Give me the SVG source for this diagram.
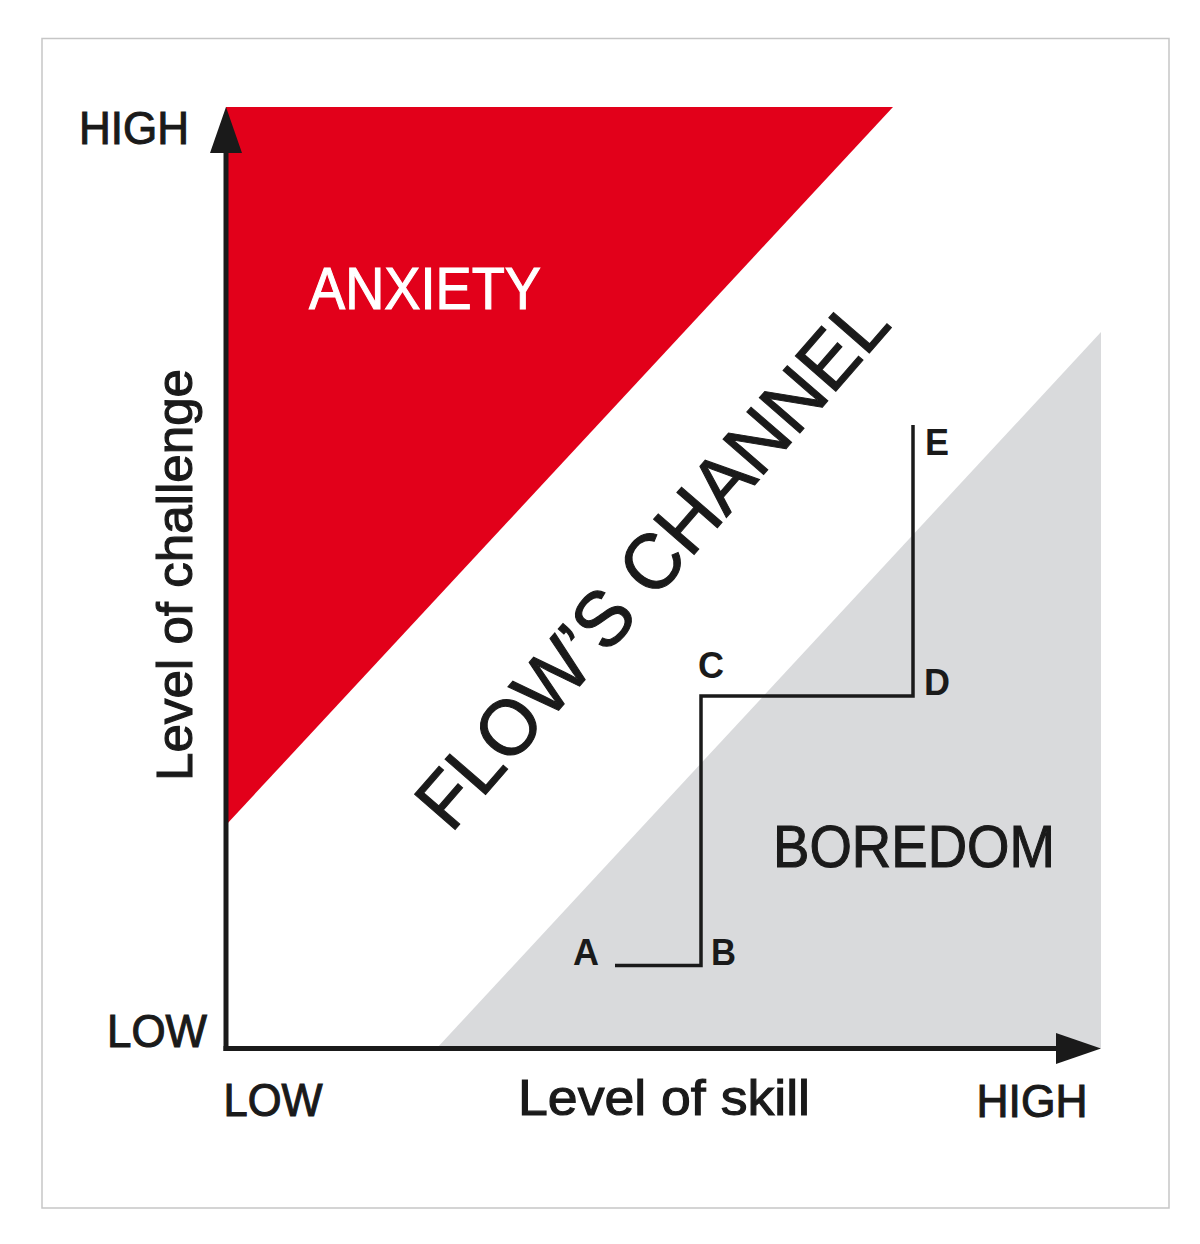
<svg xmlns="http://www.w3.org/2000/svg" width="1200" height="1244" viewBox="0 0 1200 1244">
  <style>
    .lbl { font-family: "Liberation Sans", Arial, sans-serif; fill: #1a1a1a; stroke: #1a1a1a; stroke-width: 1.1; }
    .white { fill: #ffffff; stroke: #ffffff; }
    .big { font-size: 46px; }
    .axisname { font-size: 50px; }
    .region { font-size: 60px; }
    .pt { font-family: "Liberation Sans", Arial, sans-serif; font-weight: bold; font-size: 36px; fill: #1a1a1a; }
    .axis { stroke: #1a1a1a; stroke-width: 5; fill: none; }
    .step { stroke: #1a1a1a; stroke-width: 3.5; fill: none; stroke-linejoin: miter; stroke-linecap: butt; }
  </style>
  <rect x="0" y="0" width="1200" height="1244" fill="#ffffff"/>
  <rect x="42" y="38.5" width="1127" height="1169.5" fill="#ffffff" stroke="#c6c6c6" stroke-width="1.5"/>

  <g id="anxiety-region">
    <polygon points="226,107 893,107 226,825" fill="#e2001a"/>
    <text class="lbl region white" x="309" y="309" textLength="232" lengthAdjust="spacingAndGlyphs">ANXIETY</text>
  </g>

  <g id="boredom-region">
    <polygon points="437,1048 1101,332 1101,1048" fill="#d9dadc"/>
    <text class="lbl region" x="773" y="867" textLength="282" lengthAdjust="spacingAndGlyphs">BOREDOM</text>
  </g>

  <g id="flow-channel">
    <text class="lbl" style="font-size:78px" text-anchor="middle" transform="translate(672,580) rotate(-49)" textLength="674" lengthAdjust="spacingAndGlyphs">FLOW’S CHANNEL</text>
  </g>

  <g id="axes">
    <line class="axis" x1="226" y1="1051" x2="226" y2="150"/>
    <polygon points="226,107 210,153 242,153" fill="#1a1a1a"/>
    <line class="axis" x1="223.5" y1="1048.5" x2="1060" y2="1048.5"/>
    <polygon points="1101,1048.5 1056,1033 1056,1064" fill="#1a1a1a"/>
  </g>

  <g id="axis-labels">
    <text class="lbl big" x="79" y="143.5" textLength="110" lengthAdjust="spacingAndGlyphs">HIGH</text>
    <text class="lbl big" x="107" y="1046.5" textLength="100" lengthAdjust="spacingAndGlyphs">LOW</text>
    <text class="lbl big" x="223.5" y="1116" textLength="99" lengthAdjust="spacingAndGlyphs">LOW</text>
    <text class="lbl big" x="976.5" y="1117" textLength="111" lengthAdjust="spacingAndGlyphs">HIGH</text>
    <text class="lbl axisname" x="518" y="1115" textLength="292" lengthAdjust="spacingAndGlyphs">Level of skill</text>
    <text class="lbl axisname" transform="translate(192,781) rotate(-90)" x="0" y="0" textLength="412" lengthAdjust="spacingAndGlyphs">Level of challenge</text>
  </g>

  <g id="connectors">
    <path class="step" d="M615,965.5 H701 V696 H913 V425"/>
  </g>

  <g id="node-A"><text class="pt" x="573" y="965" textLength="26" lengthAdjust="spacingAndGlyphs">A</text></g>
  <g id="node-B"><text class="pt" x="711" y="965" textLength="25" lengthAdjust="spacingAndGlyphs">B</text></g>
  <g id="node-C"><text class="pt" x="698" y="678" textLength="26" lengthAdjust="spacingAndGlyphs">C</text></g>
  <g id="node-D"><text class="pt" x="924" y="695" textLength="26" lengthAdjust="spacingAndGlyphs">D</text></g>
  <g id="node-E"><text class="pt" x="925" y="455" textLength="24" lengthAdjust="spacingAndGlyphs">E</text></g>
</svg>
